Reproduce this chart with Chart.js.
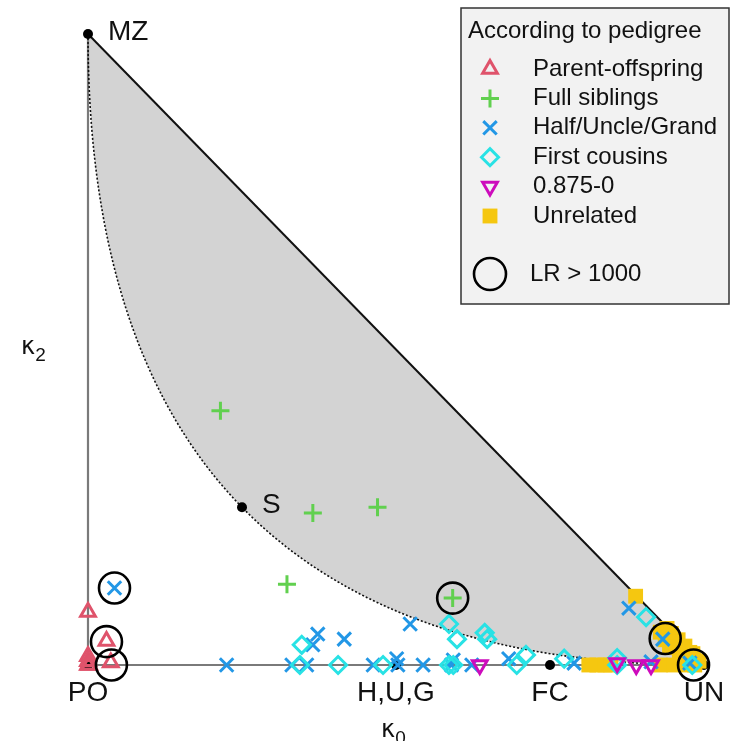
<!DOCTYPE html>
<html><head><meta charset="utf-8">
<script src="https://cdn.jsdelivr.net/npm/chart.js@4/dist/chart.umd.min.js"></script>
<style>html,body{margin:0;padding:0;background:#fff}canvas{display:block}</style>
</head><body>
<canvas id="c" width="732" height="741"></canvas>
<script>
// ---- data (kappa0, kappa2) ----
const poK0 = [0.0, 0.030, 0.037, 0.0, 0.0, 0.0, 0.002];
const poK2 = [0.084, 0.038, 0.004, 0.014, 0.006, 0.0, 0.0];

const fsK0 = [0.215, 0.365, 0.470, 0.323, 0.592];
const fsK2 = [0.403, 0.241, 0.250, 0.128, 0.106];

const hugK0 = [0.043, 0.225, 0.331, 0.355, 0.373, 0.365, 0.416, 0.463, 0.501, 0.503, 0.523, 0.544, 0.590, 0.593, 0.623, 0.683, 0.789, 0.878, 0.933, 0.914, 0.977];
const hugK2 = [0.122, 0.0, 0.0, 0.0, 0.049, 0.032, 0.041, 0.0, 0.010, 0.0, 0.065, 0.0, 0.0, 0.008, 0.0, 0.010, 0.003, 0.090, 0.041, 0.005, 0.003];

const fcK0 = [0.347, 0.344, 0.406, 0.479, 0.586, 0.599, 0.586, 0.593, 0.644, 0.648, 0.696, 0.711, 0.773, 0.859, 0.859, 0.906, 0.981];
const fcK2 = [0.032, 0.0, 0.0, 0.0, 0.065, 0.041, 0.0, 0.0, 0.051, 0.041, 0.0, 0.016, 0.010, 0.011, 0.0, 0.076, 0.0];

const k875K0 = [0.636, 0.859, 0.890, 0.914];
const k875K2 = [0.0, 0.003, 0.0, 0.0];

const unK0 = [0.889, 0.813, 0.826, 0.839, 0.849, 0.929, 0.940, 0.929, 0.937, 0.958, 0.969, 0.982, 0.984, 0.951, 0.971, 0.985, 0.947, 0.955, 0.965, 0.977, 0.992, 0.960, 0.944];
const unK2 = [0.109, 0.0, 0.0, 0.0, 0.0, 0.0, 0.058, 0.052, 0.040, 0.040, 0.030, 0.018, 0.008, 0.0, 0.0, 0.0, 0.050, 0.036, 0.024, 0.020, 0.006, 0.012, 0.028];

const lrK0 = [0.043, 0.030, 0.038, 0.592, 0.937, 0.983];
const lrK2 = [0.122, 0.037, 0.0, 0.106, 0.042, 0.0];

const refNames = ['MZ', 'S', 'PO', 'H,U,G', 'FC', 'UN'];
const refK0 = [0, 0.25, 0, 0.5, 0.75, 1];
const refK2 = [1, 0.25, 0, 0, 0, 0];

const legendTitle = 'According to pedigree';
const legendLabels = ['Parent-offspring', 'Full siblings', 'Half/Uncle/Grand', 'First cousins', '0.875-0', 'Unrelated'];
const lrLabel = 'LR > 1000';

// ---- helpers ----
const pts = (xs, ys) => xs.map((x, i) => ({x: x, y: ys[i]}));
// theoretical boundary kappa1^2 = 4 kappa0 kappa2  ->  kappa2 = (1 - sqrt(kappa0))^2
const curve = [];
for (let i = 0; i <= 300; i++) { const k0 = Math.pow(i / 300, 2); curve.push({x: k0, y: Math.pow(1 - Math.sqrt(k0), 2)}); }
const diag = pts([0, 1], [1, 0]);
const shape = diag.concat(curve.slice().reverse());

const COL = {po: '#DF536B', fs: '#61D04F', hug: '#2297E6', fc: '#28E2E5', k875: '#CD0BBC', un: '#F5C710'};
const styles = [
  {c: COL.po, s: 'triangle', r: 8.5, rot: 0, fill: false},
  {c: COL.fs, s: 'cross', r: 9, rot: 0, fill: false},
  {c: COL.hug, s: 'crossRot', r: 9.5, rot: 0, fill: false},
  {c: COL.fc, s: 'rectRot', r: 8.5, rot: 0, fill: false},
  {c: COL.k875, s: 'triangle', r: 8.5, rot: 180, fill: false},
  {c: COL.un, s: 'rect', r: 10.5, rot: 0, fill: true}
];
const seriesK0 = [poK0, fsK0, hugK0, fcK0, k875K0, unK0];
const seriesK2 = [poK2, fsK2, hugK2, fcK2, k875K2, unK2];
const drawOrder = [20, 19, 18, 17, 16, 21];
const LW = 3;

const lineDs = (data, color, width, dash, order) => ({
  data: data, showLine: true, pointRadius: 0, borderColor: color, borderWidth: width,
  borderDash: dash, fill: false, tension: 0, clip: false, order: order
});

const datasets = [];
datasets.push({data: shape, showLine: true, pointRadius: 0, borderWidth: 0, borderColor: 'rgba(0,0,0,0)',
  backgroundColor: '#D3D3D3', fill: 'shape', tension: 0, clip: false, order: 100});
datasets.push(lineDs(pts([0, 0], [0, 1]), '#7a7a7a', 2.2, [], 95));
datasets.push(lineDs(pts([0, 1], [0, 0]), '#7a7a7a', 2.2, [], 95));
datasets.push(lineDs(diag, '#111111', 2, [], 90));
datasets.push(lineDs(curve, '#111111', 1.6, [2, 2], 90));
datasets.push({data: pts(refK0, refK2), pointRadius: 5, pointStyle: 'circle', pointBackgroundColor: '#000',
  pointBorderColor: '#000', pointBorderWidth: 0, clip: false, order: 50});
styles.forEach((st, i) => {
  datasets.push({
    data: pts(seriesK0[i], seriesK2[i]), pointStyle: st.s, pointRadius: st.r, pointRotation: st.rot,
    pointBorderColor: st.c, pointBackgroundColor: st.fill ? st.c : 'rgba(0,0,0,0)',
    pointBorderWidth: st.fill ? 0 : LW, clip: false, order: drawOrder[i]
  });
});
datasets.push({data: pts(lrK0, lrK2), pointStyle: 'circle', pointRadius: 15.5, pointBorderColor: '#000',
  pointBackgroundColor: 'rgba(0,0,0,0)', pointBorderWidth: 2.6, clip: false, order: 1});

function marker(ctx, st, x, y) {
  ctx.save();
  ctx.strokeStyle = st.c; ctx.fillStyle = st.fill ? st.c : 'rgba(0,0,0,0)';
  ctx.lineWidth = st.fill ? 0 : LW;
  Chart.helpers.drawPoint(ctx, {pointStyle: st.s, radius: st.r, rotation: st.rot, borderWidth: st.fill ? 0 : LW}, x, y);
  ctx.restore();
}

const annot = {
  id: 'annot',
  afterDraw(chart) {
    const ctx = chart.ctx, xs = chart.scales.x, ys = chart.scales.y;
    ctx.save();
    ctx.fillStyle = '#111';
    ctx.font = '28px "Liberation Sans", Arial, sans-serif';
    ctx.textBaseline = 'middle';
    refNames.forEach((n, i) => {
      const px = xs.getPixelForValue(refK0[i]), py = ys.getPixelForValue(refK2[i]);
      if (refK2[i] > 0) { ctx.textAlign = 'left'; ctx.fillText(n, px + 20, py - 2); }
      else { ctx.textAlign = 'center'; ctx.fillText(n, px, py + 28); }
    });
    // axis titles
    const kap = (x, y, sub) => {
      ctx.textAlign = 'left'; ctx.textBaseline = 'alphabetic';
      ctx.font = '24px "DejaVu Sans", sans-serif';
      ctx.fillText('\u03BA', x, y);
      const w = ctx.measureText('\u03BA').width;
      ctx.font = '19px "Liberation Sans", Arial, sans-serif';
      ctx.fillText(sub, x + w, y + 7);
    };
    kap(xs.getPixelForValue(0.5) - 15, 737, '0');
    kap(21, 354, '2');
    // legend box
    const bx = 461, by = 8, bw = 268, bh = 296;
    ctx.fillStyle = '#F2F2F2'; ctx.fillRect(bx, by, bw, bh);
    ctx.strokeStyle = '#333'; ctx.lineWidth = 1.5; ctx.strokeRect(bx, by, bw, bh);
    ctx.fillStyle = '#111'; ctx.textAlign = 'left'; ctx.textBaseline = 'middle';
    ctx.font = '24px "Liberation Sans", Arial, sans-serif';
    ctx.fillText(legendTitle, 468, 31);
    legendLabels.forEach((l, i) => {
      const y = 69 + i * 29.4;
      marker(ctx, styles[i], 490, y);
      ctx.fillStyle = '#111';
      ctx.fillText(l, 533, y);
    });
    ctx.beginPath(); ctx.arc(490, 274, 16, 0, Math.PI * 2);
    ctx.strokeStyle = '#000'; ctx.lineWidth = 2.6; ctx.stroke();
    ctx.fillText(lrLabel, 530, 274);
    ctx.restore();
  }
};

new Chart(document.getElementById('c'), {
  type: 'scatter',
  data: {datasets: datasets},
  options: {
    responsive: false, animation: false, events: [],
    layout: {padding: {left: 88, right: 28, top: 34, bottom: 76}},
    scales: {
      x: {type: 'linear', min: 0, max: 1, display: false},
      y: {type: 'linear', min: 0, max: 1, display: false}
    },
    plugins: {legend: {display: false}, tooltip: {enabled: false}}
  },
  plugins: [annot]
});
</script>
</body></html>
